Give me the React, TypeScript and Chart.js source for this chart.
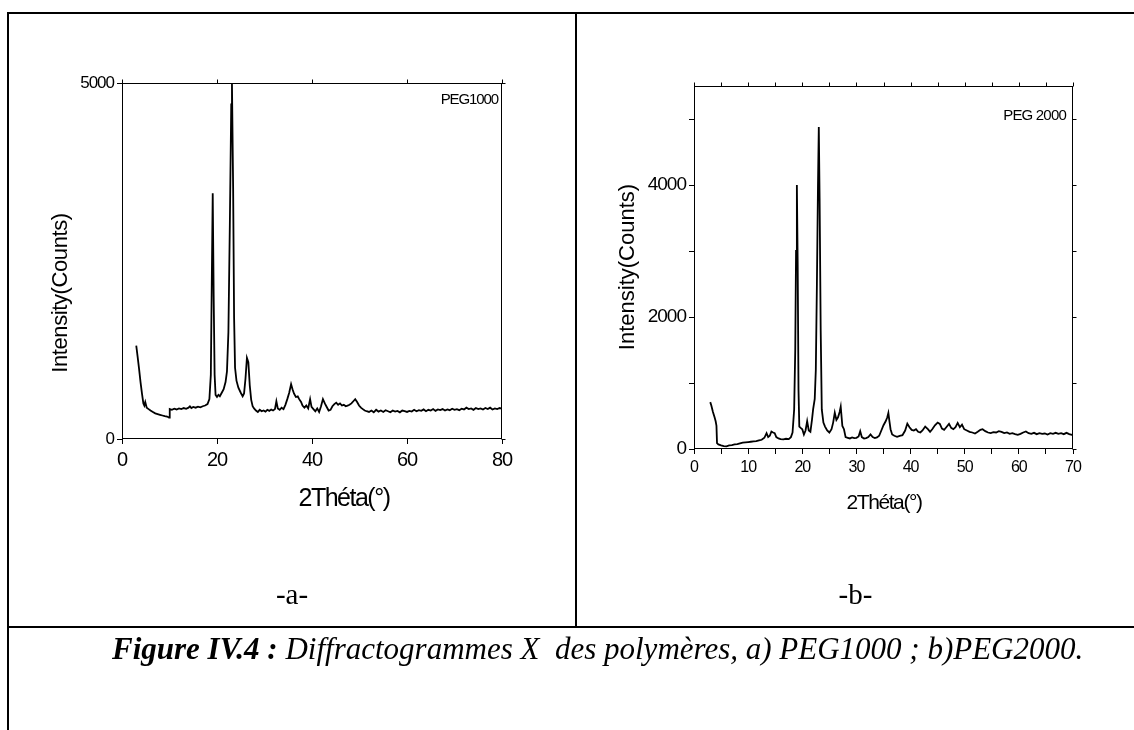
import React, { useEffect, useRef } from "react";
import { Chart, registerables } from "chart.js";

Chart.register(...registerables);

// ---------------- DATA ----------------
const peg1000Theta = [
  3.0, 3.3, 3.6, 3.9, 4.2, 4.5, 4.7, 4.9, 5.2, 5.6, 6.0, 6.5, 7.0, 7.5, 8.0, 8.5, 9.0, 9.5, 9.9, 10.0,
  10.1, 10.5, 11.0, 11.5, 12.0, 12.5, 13.0, 13.5, 14.0, 14.3, 14.6, 15.0, 15.5, 16.0, 16.5, 17.0, 17.5, 18.0, 18.4, 18.7,
  18.9, 19.1, 19.3, 19.5, 19.7, 20.0, 20.3, 20.6, 21.0, 21.4, 21.8, 22.1, 22.4, 22.7, 23.0, 23.15, 23.4, 23.6, 23.8, 24.1,
  24.5, 25.0, 25.4, 25.7, 26.0, 26.3, 26.6, 26.9, 27.2, 27.5, 27.8, 28.2, 28.6, 29.0, 29.4, 29.8, 30.2, 30.6, 31.0, 31.4,
  31.8, 32.2, 32.5, 32.8, 33.2, 33.6, 34.0, 34.4, 34.8, 35.2, 35.6, 35.9, 36.2, 36.6, 37.0, 37.3, 37.7, 38.0, 38.4, 38.8,
  39.2, 39.6, 39.9, 40.3, 40.7, 41.1, 41.5, 41.9, 42.3, 42.7, 43.1, 43.5, 43.9, 44.3, 44.7, 45.1, 45.5, 45.9, 46.3, 46.7,
  47.1, 47.5, 47.9, 48.3, 48.7, 49.1, 49.5, 49.9, 50.3, 50.7, 51.1, 51.5, 52.0, 52.5, 53.0, 53.5, 54.0, 54.5, 55.0, 55.5,
  56.0, 56.5, 57.0, 57.5, 58.0, 58.5, 59.0, 59.5, 60.0, 60.5, 61.0, 61.5, 62.0, 62.5, 63.0, 63.5, 64.0, 64.5, 65.0, 65.5,
  66.0, 66.5, 67.0, 67.5, 68.0, 68.5, 69.0, 69.5, 70.0, 70.5, 71.0, 71.5, 72.0, 72.5, 73.0, 73.5, 74.0, 74.5, 75.0, 75.5,
  76.0, 76.5, 77.0, 77.5, 78.0, 78.5, 79.0, 79.5, 80.0,
];
const peg1000Counts = [
  1310, 1150, 980, 800, 640, 500, 470, 520, 440, 420, 400, 380, 360, 350, 340, 330, 320, 315, 300, 330,
  420, 410, 425, 415, 430, 420, 435, 425, 440, 460, 435, 450, 440, 455, 445, 460, 470, 490, 560, 900,
  2200, 3450, 2000, 900, 620, 590, 620, 600, 650, 700, 800, 950, 1500, 3000, 4700, 4990, 3500, 1700, 1000, 820,
  720, 650, 600, 640, 850, 1140, 1080, 750, 550, 460, 430, 400, 380, 410, 390, 400, 385, 410, 395, 415,
  400, 420, 530, 430, 410, 440, 420, 480, 560, 650, 770, 700, 640, 590, 600, 560, 520, 470, 440, 470,
  430, 560, 450, 420, 390, 430, 380, 460, 560, 500, 450, 400, 410, 460, 490, 510, 480, 500, 470, 480,
  460, 470, 480, 500, 530, 560, 520, 470, 440, 420, 400, 390, 380, 400, 375, 410, 385, 400, 380, 405,
  390, 375, 400, 385, 395, 375, 400, 390, 380, 395, 385, 410, 390, 405, 395, 415, 390, 410, 400, 420,
  395, 415, 405, 420, 400, 415, 405, 425, 410, 420, 405, 425, 415, 440, 420, 430, 410, 435, 420, 430,
  415, 435, 420, 440, 415, 430, 420, 435, 425,
];

const peg2000Theta = [
  3.0, 3.2, 3.5, 3.8, 4.0, 4.15, 4.25, 4.5, 5.0, 5.5, 6.0, 6.5, 7.0, 7.5, 8.0, 8.5, 9.0, 9.5, 10.0, 10.5,
  11.0, 11.5, 12.0, 12.5, 13.0, 13.4, 13.7, 14.0, 14.3, 14.6, 14.9, 15.2, 15.6, 16.0, 16.5, 17.0, 17.5, 17.9, 18.2, 18.5,
  18.7, 18.85, 19.0, 19.15, 19.3, 19.45, 19.7, 20.0, 20.3, 20.6, 20.9, 21.2, 21.5, 21.8, 22.0, 22.3, 22.5, 22.7, 22.9, 23.05,
  23.2, 23.4, 23.6, 23.9, 24.2, 24.6, 25.0, 25.4, 25.7, 26.0, 26.3, 26.6, 26.9, 27.1, 27.4, 27.7, 28.0, 28.4, 28.8, 29.2,
  29.6, 30.0, 30.4, 30.7, 31.0, 31.4, 31.8, 32.2, 32.6, 33.0, 33.4, 33.8, 34.2, 34.6, 35.0, 35.4, 35.7, 35.9, 36.1, 36.3,
  36.6, 37.0, 37.5, 38.0, 38.5, 39.0, 39.4, 39.8, 40.2, 40.6, 41.0, 41.4, 41.8, 42.2, 42.7, 43.2, 43.6, 44.0, 44.5, 45.0,
  45.4, 45.8, 46.2, 46.6, 47.1, 47.5, 47.9, 48.3, 48.7, 49.1, 49.5, 49.9, 50.4, 50.9, 51.4, 51.9, 52.4, 52.9, 53.3, 53.8,
  54.3, 54.8, 55.3, 55.8, 56.3, 56.8, 57.3, 57.8, 58.3, 58.8, 59.3, 59.8, 60.3, 60.8, 61.3, 61.8, 62.3, 62.8, 63.3, 63.8,
  64.3, 64.8, 65.3, 65.8, 66.3, 66.8, 67.3, 67.8, 68.3, 68.8, 69.3, 69.8, 70.0,
];
const peg2000Counts = [
  710, 660, 560, 480, 420, 350, 90, 70, 55, 45, 40, 55, 60, 70, 75, 85, 95, 100, 105, 110,
  115, 120, 130, 140, 170, 240, 180, 200, 265, 250, 240, 180, 160, 150, 145, 155, 150, 180, 250, 600,
  1500, 3000, 4000, 2800, 900, 340, 320, 300, 220, 280, 420, 280, 260, 450, 600, 760, 1200, 2500, 4000, 4880,
  3800, 1800, 600, 400, 340, 280, 250, 300, 400, 550, 440, 480, 560, 640, 350, 300, 180, 170, 160, 175,
  165, 170, 190, 270, 180, 160, 165, 180, 220, 180, 165, 175, 200, 280, 360, 420, 480, 545, 420, 300,
  220, 200, 185, 200, 210, 280, 385, 330, 290, 280, 300, 260, 250, 280, 340, 300, 260, 300, 360, 400,
  380, 310, 290, 330, 380, 320, 300, 330, 395, 330, 370, 300, 280, 260, 250, 235, 260, 290, 300, 270,
  250, 240, 255, 250, 270, 260, 240, 250, 230, 240, 225, 215, 230, 250, 265, 240, 230, 245, 225, 240,
  230, 235, 220, 240, 230, 245, 230, 240, 225, 245, 225, 215, 220,
];

// tick positions and the ones that carry labels
const peg1000XTicks = [0, 20, 40, 60, 80];
const peg1000XTickLabels = [0, 20, 40, 60, 80];
const peg1000YTicks = [0, 5000];
const peg1000YTickLabels = [0, 5000];
const peg2000XTicks = [0, 5, 10, 15, 20, 25, 30, 35, 40, 45, 50, 55, 60, 65, 70];
const peg2000XTickLabels = [0, 10, 20, 30, 40, 50, 60, 70];
const peg2000YTicks = [0, 1000, 2000, 3000, 4000, 5000];
const peg2000YTickLabels = [0, 2000, 4000];

const xAxisTitle = "2Théta(°)";
const yAxisTitle = "Intensity(Counts)";
const panelNames = ["PEG1000", "PEG 2000"];
const cellLabels = ["-a-", "-b-"];
const captionBold = "Figure IV.4 :";
const captionRest = " Diffractogrammes X  des polymères, a) PEG1000 ; b)PEG2000.";

// ---------------- LAYOUT / STYLE ----------------
const SANS = '"Liberation Sans", Arial, sans-serif';
const CANVAS_H = 609;
const CANVAS_TOP = 14;

type Panel = {
  theta: number[];
  counts: number[];
  xMax: number;
  xTicks: number[];
  xLabels: number[];
  yMax: number;
  yTicks: number[];
  yLabels: number[];
  name: string;
  width: number;
  leftAxisW: number;
  padTop: number;
  padRight: number;
  xAxisH: number;
  xTickFont: number;
  yTickFont: number;
  tickSpacing: string;
  xTitle: { size: number; sp: string; x: number; y: number };
  yTitle: { size: number; sp: string; x: number; y: number };
  label: { size: number; sp: string; x: number; y: number };
};

const panels: Panel[] = [
  {
    theta: peg1000Theta,
    counts: peg1000Counts,
    xMax: 80,
    xTicks: peg1000XTicks,
    xLabels: peg1000XTickLabels,
    yMax: 5000,
    yTicks: peg1000YTicks,
    yLabels: peg1000YTickLabels,
    name: panelNames[0],
    width: 575,
    leftAxisW: 122,
    padTop: 69,
    padRight: 73,
    xAxisH: 184,
    xTickFont: 20,
    yTickFont: 17,
    tickSpacing: "-1px",
    xTitle: { size: 25, sp: "-1.5px", x: 344, y: 485 },
    yTitle: { size: 22, sp: "-0.4px", x: 61, y: 279 },
    label: { size: 15, sp: "-1.1px", x: 498, y: 86 },
  },
  {
    theta: peg2000Theta,
    counts: peg2000Counts,
    xMax: 70,
    xTicks: peg2000XTicks,
    xLabels: peg2000XTickLabels,
    yMax: 5500,
    yTicks: peg2000YTicks,
    yLabels: peg2000YTickLabels,
    name: panelNames[1],
    width: 559,
    leftAxisW: 119,
    padTop: 72,
    padRight: 61,
    xAxisH: 174,
    xTickFont: 16,
    yTickFont: 19,
    tickSpacing: "-1px",
    xTitle: { size: 21, sp: "-1.4px", x: 309, y: 489 },
    yTitle: { size: 22, sp: "0px", x: 53, y: 253 },
    label: { size: 15, sp: "-0.8px", x: 491, y: 102 },
  },
];

const framePlugin = {
  id: "frame",
  beforeDraw(chart: any, _a: any, o: any) {
    chart.ctx.letterSpacing = o.tickSpacing;
  },
  afterDraw(chart: any, _a: any, o: any) {
    const { ctx, chartArea: a, scales } = chart;
    ctx.save();
    ctx.strokeStyle = "#000";
    ctx.lineWidth = 1;
    const L = Math.round(a.left) + 0.5;
    const R = Math.round(a.right) - 0.5;
    const T = Math.round(a.top) + 0.5;
    const B = Math.round(a.bottom) - 0.5;
    ctx.strokeRect(L, T, R - L, B - T);
    ctx.beginPath();
    for (const t of scales.x.ticks) {
      const px = Math.round(scales.x.getPixelForValue(t.value)) + 0.5;
      ctx.moveTo(px, T);
      ctx.lineTo(px, T - 4);
    }
    for (const t of scales.y.ticks) {
      const py = Math.round(scales.y.getPixelForValue(t.value)) + 0.5;
      ctx.moveTo(R, py);
      ctx.lineTo(R + 4, py);
    }
    ctx.stroke();

    ctx.fillStyle = "#000";
    ctx.textBaseline = "middle";
    const put = (s: string, t: any, align: CanvasTextAlign, rot: number) => {
      ctx.save();
      ctx.font = `${t.size}px ${SANS}`;
      ctx.letterSpacing = t.sp;
      ctx.textAlign = align;
      ctx.translate(t.x, t.y);
      ctx.rotate(rot);
      ctx.fillText(s, 0, 0);
      ctx.restore();
    };
    put(o.xTitleText, o.xTitle, "center", 0);
    put(o.yTitleText, o.yTitle, "center", -Math.PI / 2);
    put(o.labelText, o.label, "right", 0);
    ctx.restore();
  },
};

function buildConfig(p: Panel): any {
  const pts = p.theta.map((x, i) => ({ x, y: p.counts[i] }));
  return {
    type: "line",
    data: {
      datasets: [
        {
          data: pts,
          borderColor: "#000",
          borderWidth: 1.8,
          pointRadius: 0,
          tension: 0,
          fill: false,
        },
      ],
    },
    options: {
      responsive: false,
      maintainAspectRatio: false,
      animation: false,
      devicePixelRatio: 1,
      events: [],
      layout: { padding: { top: p.padTop, right: p.padRight, left: 0, bottom: 0 } },
      plugins: {
        legend: { display: false },
        tooltip: { enabled: false },
        frame: {
          tickSpacing: p.tickSpacing,
          xTitle: p.xTitle,
          yTitle: p.yTitle,
          label: p.label,
          xTitleText: xAxisTitle,
          yTitleText: yAxisTitle,
          labelText: p.name,
        },
      },
      scales: {
        x: {
          type: "linear",
          min: 0,
          max: p.xMax,
          afterBuildTicks: (s: any) => {
            s.ticks = p.xTicks.map((v) => ({ value: v }));
          },
          afterFit: (s: any) => {
            s.height = p.xAxisH;
          },
          border: { display: false },
          grid: { drawOnChartArea: false, drawTicks: true, tickLength: 5, color: "#000", lineWidth: 1 },
          ticks: {
            autoSkip: false,
            maxRotation: 0,
            minRotation: 0,
            padding: 4,
            color: "#000",
            font: { family: SANS, size: p.xTickFont },
            callback: (v: any) => (p.xLabels.includes(Number(v)) ? String(v) : ""),
          },
        },
        y: {
          type: "linear",
          min: 0,
          max: p.yMax,
          afterBuildTicks: (s: any) => {
            s.ticks = p.yTicks.map((v) => ({ value: v }));
          },
          afterFit: (s: any) => {
            s.width = p.leftAxisW;
          },
          border: { display: false },
          grid: { drawOnChartArea: false, drawTicks: true, tickLength: 5, color: "#000", lineWidth: 1 },
          ticks: {
            autoSkip: false,
            padding: 3,
            color: "#000",
            font: { family: SANS, size: p.yTickFont },
            callback: (v: any) => (p.yLabels.includes(Number(v)) ? String(v) : ""),
          },
        },
      },
    },
    plugins: [framePlugin],
  };
}

export default function App() {
  const leftRef = useRef<HTMLCanvasElement | null>(null);
  const rightRef = useRef<HTMLCanvasElement | null>(null);

  useEffect(() => {
    const c1 = new Chart(leftRef.current as HTMLCanvasElement, buildConfig(panels[0]));
    const c2 = new Chart(rightRef.current as HTMLCanvasElement, buildConfig(panels[1]));
    return () => {
      c1.destroy();
      c2.destroy();
    };
  }, []);

  const line = (l: number, t: number, w: number, h: number) => (
    <div style={{ position: "absolute", left: l, top: t, width: w, height: h, background: "#000" }} />
  );

  const cellText = (left: number, width: number, text: string) => (
    <div
      style={{
        position: "absolute",
        left,
        width,
        top: 580,
        lineHeight: "28px",
        fontSize: 29,
        textAlign: "center",
        color: "#000",
      }}
    >
      {text}
    </div>
  );

  return (
    <div
      style={{
        position: "absolute",
        left: 0,
        top: 0,
        width: 1134,
        height: 730,
        background: "#fff",
        overflow: "hidden",
        fontFamily: '"Liberation Serif", "Times New Roman", serif',
      }}
    >
      <canvas
        ref={leftRef}
        width={panels[0].width}
        height={CANVAS_H}
        style={{ position: "absolute", left: 0, top: CANVAS_TOP, width: panels[0].width, height: CANVAS_H }}
      />
      <canvas
        ref={rightRef}
        width={panels[1].width}
        height={CANVAS_H}
        style={{ position: "absolute", left: 575, top: CANVAS_TOP, width: panels[1].width, height: CANVAS_H }}
      />
      {line(7, 12, 1127, 2)}
      {line(7, 12, 2, 718)}
      {line(575, 12, 2, 616)}
      {line(7, 626, 1127, 2)}
      {cellText(9, 566, cellLabels[0])}
      {cellText(577, 557, cellLabels[1])}
      <div
        style={{
          position: "absolute",
          left: 112,
          top: 634,
          lineHeight: "30px",
          fontSize: 31,
          whiteSpace: "pre",
          fontStyle: "italic",
          color: "#000",
        }}
      >
        <b>{captionBold}</b>
        {captionRest}
      </div>
    </div>
  );
}
